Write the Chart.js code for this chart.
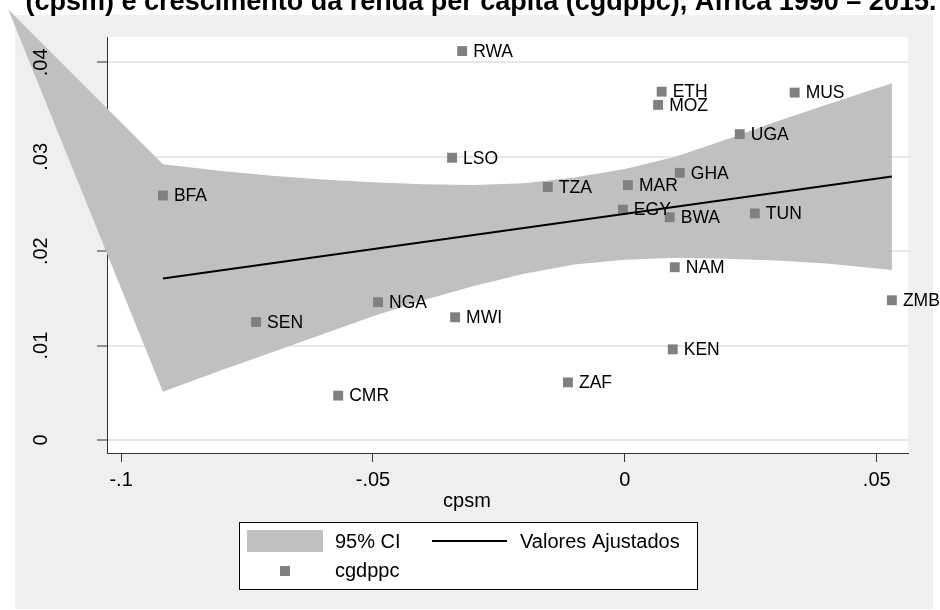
<!DOCTYPE html>
<html>
<head>
<meta charset="utf-8">
<script src="https://cdn.jsdelivr.net/npm/chart.js@4/dist/chart.umd.min.js"></script>
<style>
  html, body { margin: 0; padding: 0; background: #ffffff; }
  canvas { display: block; }
</style>
</head>
<body>
<canvas id="chart" width="940" height="610"></canvas>
<script>
// Country codes and values: credit to private sector (cpsm) vs. GDP per capita growth (cgdppc)
const countries = ['BFA','SEN','CMR','NGA','LSO','MWI','RWA','TZA','ZAF','EGY','MAR','MOZ','ETH','BWA','KEN','NAM','GHA','UGA','TUN','MUS','ZMB'];
const cpsm   = [-0.0917,-0.0732,-0.0569,-0.0490,-0.0343,-0.0337,-0.0323,-0.0153,-0.0113,-0.0004,0.0006,0.0066,0.0073,0.0089,0.0095,0.0099,0.0109,0.0228,0.0258,0.0337,0.0530];
const cgdppc = [0.0259,0.0125,0.0047,0.0146,0.0299,0.0130,0.0412,0.0268,0.0061,0.0244,0.0270,0.0355,0.0369,0.0236,0.0096,0.0183,0.0283,0.0324,0.0240,0.0368,0.0148];

// Fitted values (linear fit) at the ends of the cpsm range
const fitX = [-0.0917, 0.0530];
const fitY = [0.0171, 0.0279];

// 95% confidence band: lower / upper bounds along cpsm, with the stray leading vertex
const bandX     = [-0.1224, -0.0917, -0.08, -0.07, -0.06, -0.05, -0.04, -0.03, -0.02, -0.01, 0.00, 0.01, 0.02, 0.03, 0.04, 0.0530];
const bandLower = [0.0456, 0.0051, 0.0074, 0.0093, 0.0112, 0.0131, 0.0148, 0.0163, 0.0176, 0.0186, 0.0191, 0.0193, 0.0192, 0.0190, 0.0187, 0.0180];
const bandUpper = [0.0456, 0.0292, 0.0285, 0.0280, 0.0276, 0.0273, 0.0271, 0.0270, 0.0272, 0.0278, 0.0287, 0.0300, 0.0318, 0.0337, 0.0355, 0.0378];

// Axis ticks
const xTickValues = [-0.1, -0.05, 0, 0.05];
const xTickLabels = ['-.1', '-.05', '0', '.05'];
const yTickValues = [0, 0.01, 0.02, 0.03, 0.04];
const yTickLabels = ['0', '.01', '.02', '.03', '.04'];

const titleText = '(cpsm) e crescimento da renda per capita (cgdppc), África 1990 – 2015.';
const xTitle = 'cpsm';
const legendLabels = ['95% CI', 'Valores Ajustados', 'cgdppc'];

const FONT = '"Liberation Sans", Arial, Helvetica, sans-serif';
const BAND_COLOR = '#c0c0c0';
const MARK_COLOR = '#808080';

const pts = (xs, ys) => xs.map((x, i) => ({ x: x, y: ys[i] }));

// Page background, grey graph region and white plot region
const backgroundPlugin = {
  id: 'stataBackground',
  beforeDraw(chart) {
    const ctx = chart.ctx, a = chart.chartArea;
    ctx.save();
    ctx.fillStyle = '#ffffff';
    ctx.fillRect(0, 0, chart.width, chart.height);
    ctx.fillStyle = '#efefef';
    ctx.fillRect(15, 15, 918, 594);
    ctx.fillStyle = '#ffffff';
    ctx.fillRect(a.left, a.top, a.right - a.left, a.bottom - a.top);
    ctx.restore();
  }
};

// Confidence band polygon built from the band datasets' element positions (not clipped)
const bandPlugin = {
  id: 'ciBand',
  beforeDatasetsDraw(chart) {
    const lo = chart.getDatasetMeta(0).data;
    const hi = chart.getDatasetMeta(1).data;
    const ctx = chart.ctx;
    ctx.save();
    ctx.beginPath();
    hi.forEach((p, i) => { if (i === 0) ctx.moveTo(p.x, p.y); else ctx.lineTo(p.x, p.y); });
    for (let i = lo.length - 1; i >= 0; i--) ctx.lineTo(lo[i].x, lo[i].y);
    ctx.closePath();
    ctx.fillStyle = BAND_COLOR;
    ctx.fill();
    ctx.restore();
  }
};

// Marker labels, rotated y tick labels, axis title, legend and title text
const textPlugin = {
  id: 'stataText',
  afterDatasetsDraw(chart) {
    const ctx = chart.ctx;
    const meta = chart.getDatasetMeta(3);
    ctx.save();
    ctx.fillStyle = '#000';
    ctx.font = '17.5px ' + FONT;
    ctx.textAlign = 'left';
    ctx.textBaseline = 'middle';
    meta.data.forEach((p, i) => ctx.fillText(countries[i], p.x + 11, p.y + 1));
    ctx.restore();
  },
  afterDraw(chart) {
    const ctx = chart.ctx;
    const ys = chart.scales.y;
    ctx.save();
    ctx.fillStyle = '#000';

    // y tick labels, reading bottom to top
    ctx.font = '20px ' + FONT;
    ctx.textAlign = 'center';
    ctx.textBaseline = 'middle';
    ys.ticks.forEach((t, i) => {
      const py = ys.getPixelForValue(t.value);
      ctx.save();
      ctx.translate(41, py);
      ctx.rotate(-Math.PI / 2);
      ctx.fillText(yTickLabels[i], 0, 0);
      ctx.restore();
    });

    // x axis title
    ctx.fillText(xTitle, 467, 501);

    // title (second line of a title running off the top edge)
    ctx.font = 'bold 27px ' + FONT;
    ctx.textBaseline = 'alphabetic';
    ctx.fillText(titleText, 481, 10);

    // legend box
    const L = { x: 239, y: 522, w: 458, h: 67 };
    ctx.fillStyle = '#ffffff';
    ctx.fillRect(L.x, L.y, L.w, L.h);
    ctx.strokeStyle = '#000';
    ctx.lineWidth = 1;
    ctx.strokeRect(L.x + 0.5, L.y + 0.5, L.w, L.h);

    ctx.fillStyle = BAND_COLOR;
    ctx.fillRect(247, 530, 76, 22);
    ctx.strokeStyle = '#000';
    ctx.lineWidth = 2;
    ctx.beginPath();
    ctx.moveTo(432, 541);
    ctx.lineTo(507, 541);
    ctx.stroke();
    ctx.fillStyle = MARK_COLOR;
    ctx.fillRect(280, 566, 10, 10);

    ctx.fillStyle = '#000';
    ctx.font = '20px ' + FONT;
    ctx.textAlign = 'left';
    ctx.textBaseline = 'middle';
    ctx.fillText(legendLabels[0], 335, 542);
    ctx.fillText(legendLabels[1], 520, 542);
    ctx.fillText(legendLabels[2], 335, 571);
    ctx.restore();
  }
};

new Chart(document.getElementById('chart'), {
  type: 'scatter',
  data: {
    datasets: [
      { label: 'ci-lower', type: 'line', data: pts(bandX, bandLower), showLine: false, pointRadius: 0, clip: false },
      { label: 'ci-upper', type: 'line', data: pts(bandX, bandUpper), showLine: false, pointRadius: 0, clip: false },
      { label: legendLabels[1], type: 'line', data: pts(fitX, fitY), borderColor: '#000', borderWidth: 2,
        pointRadius: 0, fill: false, tension: 0 },
      { label: legendLabels[2], data: pts(cpsm, cgdppc), pointStyle: 'rect', pointRadius: 7,
        backgroundColor: MARK_COLOR, borderWidth: 0, pointBorderWidth: 0, clip: false }
    ]
  },
  options: {
    responsive: false,
    animation: false,
    devicePixelRatio: 1,
    layout: { padding: { left: 0, top: 37, right: 32, bottom: 117 } },
    plugins: { legend: { display: false }, tooltip: { enabled: false }, title: { display: false } },
    scales: {
      x: {
        type: 'linear',
        min: -0.1028, max: 0.0562,
        afterFit: s => { s.height = 40; },
        afterBuildTicks: s => { s.ticks = xTickValues.map(v => ({ value: v })); },
        ticks: {
          callback: (v, i) => xTickLabels[i],
          font: { size: 20, family: FONT }, color: '#000', padding: 6, maxRotation: 0
        },
        grid: { drawOnChartArea: false, drawTicks: true, tickLength: 9, tickColor: '#333', tickWidth: 1 },
        border: { display: true, color: '#333', width: 1 }
      },
      y: {
        type: 'linear',
        min: -0.00138, max: 0.04269,
        afterFit: s => { s.width = 107; },
        afterBuildTicks: s => { s.ticks = yTickValues.map(v => ({ value: v })); },
        ticks: { display: false },
        grid: { color: '#e8e8e8', lineWidth: 2, drawTicks: true, tickLength: 10, tickColor: '#333', tickWidth: 1 },
        border: { display: true, color: '#333', width: 1 }
      }
    }
  },
  plugins: [backgroundPlugin, bandPlugin, textPlugin]
});
</script>
</body>
</html>
